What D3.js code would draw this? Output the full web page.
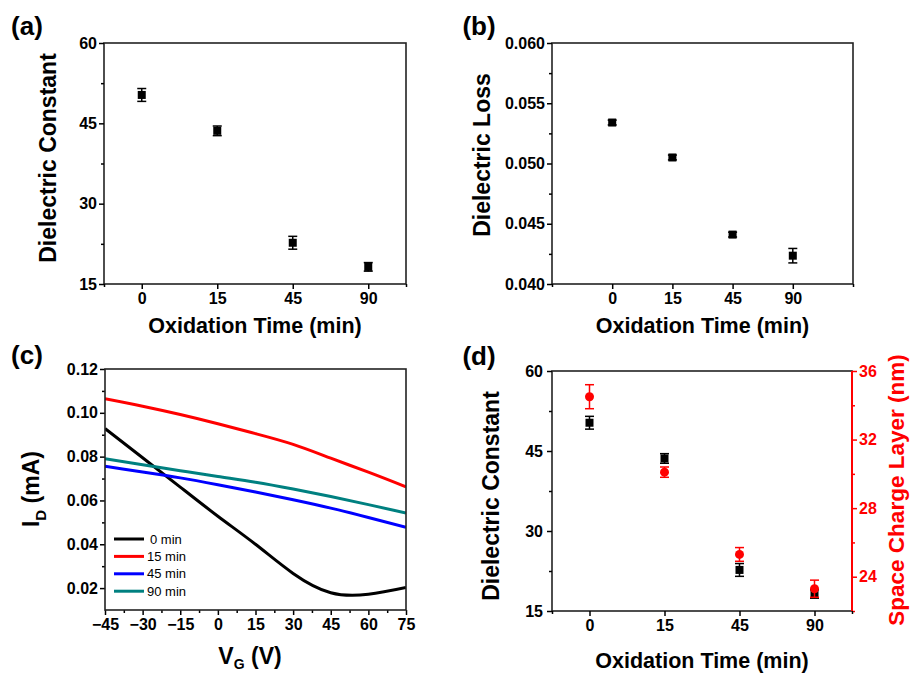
<!DOCTYPE html>
<html lang="en">
<head>
<meta charset="UTF-8">
<title>Oxidation time panels</title>
<script src="https://cdnjs.cloudflare.com/ajax/libs/d3/7.8.5/d3.min.js"></script>
<style>
  body { margin: 0; background: #fff; }
  svg { display: block; }
</style>
</head>
<body>
<script>
// ---- data ----
const oxTimes = ["0", "15", "45", "90"];
const dielConst = [50.3, 43.6, 22.7, 18.2];
const dielConstErr = [1.2, 0.9, 1.2, 0.8];
const dielLoss = [0.0534, 0.0505, 0.0441, 0.04235];
const dielLossErr = [0.0002, 0.0002, 0.0002, 0.0006];
const spaceCharge = [34.5, 30.1, 25.3, 23.3];
const spaceChargeErr = [0.7, 0.3, 0.4, 0.5];

const vg = [-45, -30, -15, 0, 15, 30, 45, 60, 75];
const id0 = [0.0928, 0.0795, 0.0661, 0.0528, 0.0400, 0.0267, 0.0179, 0.0172, 0.0203];
const id15 = [0.1064, 0.1030, 0.0992, 0.0950, 0.0905, 0.0856, 0.0793, 0.0729, 0.0662];
const id45 = [0.0756, 0.0730, 0.0703, 0.0672, 0.0639, 0.0603, 0.0565, 0.0522, 0.0477];
const id90 = [0.0790, 0.0763, 0.0736, 0.0709, 0.0683, 0.0652, 0.0618, 0.0581, 0.0543];
const curveLabels = ["0 min", "15 min", "45 min", "90 min"];
const curveColors = ["#000000", "#ff0000", "#0000ff", "#008080"];

const FONT = "'Liberation Sans', Arial, Helvetica, sans-serif";

const svg = d3.select("body").append("svg")
    .attr("width", 911)
    .attr("height", 675);

function drawAxis(orient, scale, pos, majors, minors, fmt, pad, color) {
    const gen = orient === "left" ? d3.axisLeft : orient === "right" ? d3.axisRight : d3.axisBottom;
    const tr = orient === "bottom" ? `translate(0,${pos})` : `translate(${pos},0)`;
    const gMin = svg.append("g").attr("transform", tr)
        .call(gen(scale).tickValues(minors).tickSize(3).tickFormat(""));
    const gMaj = svg.append("g").attr("transform", tr)
        .call(gen(scale).tickValues(majors).tickSize(5).tickPadding(pad).tickFormat(fmt));
    [gMin, gMaj].forEach(a => {
        a.select(".domain").remove();
        a.selectAll("line").attr("stroke", color).attr("stroke-width", 1.5);
        a.selectAll("text").attr("fill", color)
            .style("font-family", FONT).style("font-weight", "bold").style("font-size", "16px");
    });
}

function frame(b) {
    svg.append("rect")
        .attr("x", b.x0).attr("y", b.y0)
        .attr("width", b.x1 - b.x0).attr("height", b.y1 - b.y0)
        .attr("fill", "none").attr("stroke", "#222").attr("stroke-width", 1.6);
}

function label(text, x, y, size, opts = {}) {
    const t = svg.append("text")
        .attr("x", x).attr("y", y)
        .attr("text-anchor", opts.anchor || "middle")
        .attr("fill", opts.color || "#000")
        .style("font-family", FONT)
        .style("font-weight", opts.weight || "bold")
        .style("font-size", size + "px")
        .text(text);
    if (opts.rotate) t.attr("transform", `rotate(-90,${x},${y})`);
    return t;
}

function errBars(x, y, vals, errs, color) {
    const g = svg.append("g").attr("stroke", color).attr("stroke-width", 1.5);
    vals.forEach((v, i) => {
        g.append("line").attr("x1", x(i)).attr("x2", x(i))
            .attr("y1", y(v - errs[i])).attr("y2", y(v + errs[i]));
        [v - errs[i], v + errs[i]].forEach(e => {
            g.append("line").attr("x1", x(i) - 4.5).attr("x2", x(i) + 4.5)
                .attr("y1", y(e)).attr("y2", y(e));
        });
    });
}

function squares(x, y, vals) {
    svg.append("g").selectAll("rect").data(vals).join("rect")
        .attr("x", (d, i) => x(i) - 4).attr("y", d => y(d) - 4)
        .attr("width", 8).attr("height", 8).attr("fill", "#000");
}

const catIdx = [0, 1, 2, 3];
const catFmt = i => oxTimes[i];

// ---- (a) dielectric constant ----
{
    const b = { x0: 104, x1: 406, y0: 43, y1: 284 };
    const x = d3.scaleLinear().domain([-0.5, 3.5]).range([b.x0, b.x1]);
    const y = d3.scaleLinear().domain([15, 60]).range([b.y1, b.y0]);
    frame(b);
    drawAxis("left", y, b.x0, [15, 30, 45, 60], [22.5, 37.5, 52.5], d3.format("d"), 2, "#000");
    drawAxis("bottom", x, b.y1, catIdx, [-0.5, 3.5], catFmt, 4, "#000");
    errBars(x, y, dielConst, dielConstErr, "#000");
    squares(x, y, dielConst);
    label("(a)", 27, 35, 26);
    label("Oxidation Time (min)", (b.x0 + b.x1) / 2, 333, 21.5);
    label("Dielectric Constant", 56, 158, 23, { rotate: true });
}

// ---- (b) dielectric loss ----
{
    const b = { x0: 552, x1: 853, y0: 43, y1: 284 };
    const x = d3.scaleLinear().domain([-1, 4]).range([b.x0, b.x1]);
    const y = d3.scaleLinear().domain([0.040, 0.060]).range([b.y1, b.y0]);
    frame(b);
    drawAxis("left", y, b.x0, [0.040, 0.045, 0.050, 0.055, 0.060],
        [0.0425, 0.0475, 0.0525, 0.0575], d3.format(".3f"), 2, "#000");
    drawAxis("bottom", x, b.y1, catIdx, [-1, 4], catFmt, 4, "#000");
    errBars(x, y, dielLoss, dielLossErr, "#000");
    squares(x, y, dielLoss);
    label("(b)", 479, 35, 26);
    label("Oxidation Time (min)", (b.x0 + b.x1) / 2, 333, 21.5);
    label("Dielectric Loss", 490, 155, 23, { rotate: true });
}

// ---- (c) transfer curves ----
{
    const b = { x0: 105, x1: 406, y0: 369, y1: 610 };
    const x = d3.scaleLinear().domain([-45, 75]).range([b.x0, b.x1]);
    const y = d3.scaleLinear().domain([0.01, 0.12]).range([b.y1, b.y0]);
    drawAxis("left", y, b.x0, [0.02, 0.04, 0.06, 0.08, 0.10, 0.12],
        [0.03, 0.05, 0.07, 0.09, 0.11], d3.format(".2f"), 2, "#000");
    drawAxis("bottom", x, b.y1, d3.range(-45, 76, 15), d3.range(-37.5, 75, 15), d3.format("d"), 4, "#000");

    const line = d3.line()
        .x((d, i) => x(vg[i]))
        .y(d => y(d))
        .curve(d3.curveNatural);
    const series = [id0, id15, id45, id90];
    svg.append("defs").append("clipPath").attr("id", "clipC")
        .append("rect").attr("x", b.x0).attr("y", b.y0)
        .attr("width", b.x1 - b.x0).attr("height", b.y1 - b.y0);
    svg.append("g").attr("clip-path", "url(#clipC)")
        .selectAll("path").data(series).join("path")
        .attr("d", line)
        .attr("fill", "none")
        .attr("stroke", (d, i) => curveColors[i])
        .attr("stroke-width", 3);
    frame(b);

    // legend
    const lg = svg.append("g");
    curveLabels.forEach((t, i) => {
        const yy = 539 + i * 17.4;
        lg.append("line").attr("x1", 114).attr("x2", 144).attr("y1", yy).attr("y2", yy)
            .attr("stroke", curveColors[i]).attr("stroke-width", 3);
        lg.append("text").attr("x", i === 0 ? 150 : 147).attr("y", yy + 4.5)
            .style("font-family", FONT).style("font-size", "13px")
            .text(t);
    });

    label("(c)", 27, 364, 26);
    const xt = label("V", 250, 664, 23);
    xt.append("tspan").attr("dy", 5).style("font-size", "14px").text("G");
    xt.append("tspan").attr("dy", -5).text(" (V)");
    const yt = label("I", 38.5, 489, 23, { rotate: true });
    yt.append("tspan").attr("dy", 7).style("font-size", "15px").text("D");
    yt.append("tspan").attr("dy", -7).text(" (mA)");
}

// ---- (d) dielectric constant + space charge layer ----
{
    const b = { x0: 552, x1: 852, y0: 371, y1: 611 };
    const red = "#ff0000";
    const x = d3.scaleLinear().domain([-0.5, 3.5]).range([b.x0, b.x1]);
    const y = d3.scaleLinear().domain([15, 60]).range([b.y1, b.y0]);
    const y2 = d3.scaleLinear().domain([22, 36]).range([b.y1, b.y0]);
    frame(b);
    svg.append("line").attr("x1", b.x1).attr("x2", b.x1).attr("y1", b.y0).attr("y2", b.y1)
        .attr("stroke", red).attr("stroke-width", 2);
    drawAxis("left", y, b.x0, [15, 30, 45, 60], [22.5, 37.5, 52.5], d3.format("d"), 4, "#000");
    drawAxis("right", y2, b.x1, [24, 28, 32, 36], [22, 26, 30, 34], d3.format("d"), 2, red);
    drawAxis("bottom", x, b.y1, catIdx, [-0.5, 3.5], catFmt, 4, "#000");

    errBars(x, y, dielConst, dielConstErr, "#000");
    squares(x, y, dielConst);
    errBars(x, y2, spaceCharge, spaceChargeErr, red);
    svg.append("g").selectAll("circle").data(spaceCharge).join("circle")
        .attr("cx", (d, i) => x(i)).attr("cy", d => y2(d))
        .attr("r", 4.5).attr("fill", red);

    label("(d)", 479, 365, 26);
    label("Oxidation Time (min)", (b.x0 + b.x1) / 2, 668, 21.5);
    label("Dielectric Constant", 498.5, 496, 23, { rotate: true });
    label("Space Charge Layer (nm)", 904, 490, 22.5, { rotate: true, color: red });
}
</script>
</body>
</html>
